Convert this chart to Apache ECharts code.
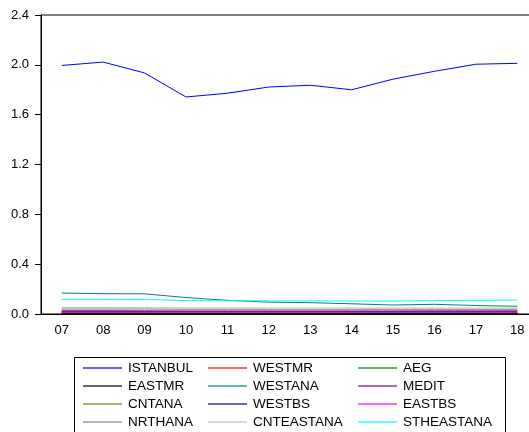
<!DOCTYPE html>
<html>
<head>
<meta charset="utf-8">
<script src="https://cdn.jsdelivr.net/npm/echarts@6/dist/echarts.min.js"></script>
<style>
html,body{margin:0;padding:0;background:#fff;}
#main{width:529px;height:432px;}
</style>
</head>
<body>
<div id="main"></div>
<script>
var years = ['07','08','09','10','11','12','13','14','15','16','17','18'];

var ISTANBUL   = [1.995,2.022,1.935,1.742,1.772,1.822,1.836,1.800,1.885,1.948,2.005,2.012];
var WESTMR     = [0.008,0.008,0.008,0.007,0.007,0.007,0.007,0.007,0.007,0.007,0.007,0.007];
var AEG        = [0.012,0.012,0.012,0.011,0.011,0.011,0.011,0.011,0.011,0.011,0.011,0.011];
var EASTMR     = [0.005,0.005,0.005,0.005,0.005,0.005,0.005,0.005,0.005,0.005,0.005,0.005];
var WESTANA    = [0.168,0.163,0.162,0.132,0.110,0.095,0.091,0.082,0.072,0.078,0.068,0.062];
var MEDIT      = [0.026,0.026,0.025,0.024,0.024,0.024,0.024,0.024,0.024,0.025,0.025,0.025];
var CNTANA     = [0.014,0.014,0.014,0.013,0.013,0.013,0.013,0.013,0.013,0.013,0.013,0.013];
var WESTBS     = [0.019,0.019,0.019,0.018,0.018,0.018,0.018,0.018,0.018,0.018,0.018,0.018];
var EASTBS     = [0.016,0.016,0.016,0.015,0.015,0.015,0.015,0.015,0.015,0.015,0.015,0.015];
var NRTHANA    = [0.040,0.040,0.040,0.038,0.038,0.038,0.038,0.038,0.038,0.038,0.038,0.038];
var CNTEASTANA = [0.052,0.052,0.051,0.049,0.049,0.048,0.048,0.048,0.048,0.048,0.048,0.048];
var STHEASTANA = [0.118,0.118,0.116,0.108,0.106,0.106,0.106,0.104,0.104,0.107,0.110,0.112];

var yTicks = [0, 0.4, 0.8, 1.2, 1.6, 2.0, 2.4];

// name, data, colour
var list = [
	['ISTANBUL',ISTANBUL,'#0000ff'],
	['WESTMR',WESTMR,'#ff0000'],
	['AEG',AEG,'#008000'],
	['EASTMR',EASTMR,'#000000'],
	['WESTANA',WESTANA,'#008080'],
	['MEDIT',MEDIT,'#800080'],
	['CNTANA',CNTANA,'#808000'],
	['WESTBS',WESTBS,'#000080'],
	['EASTBS',EASTBS,'#ff00ff'],
	['NRTHANA',NRTHANA,'#808080'],
	['CNTEASTANA',CNTEASTANA,'#c0c0c0'],
	['STHEASTANA',STHEASTANA,'#00ffff']
];

var cols = [
	['ISTANBUL','EASTMR','CNTANA','NRTHANA'],
	['WESTMR','WESTANA','WESTBS','CNTEASTANA'],
	['AEG','MEDIT','EASTBS','STHEASTANA']
];
var colX = [83, 208, 358];

var font = '"Liberation Sans", Arial, sans-serif';

var series = [];
for (var i = 0; i < list.length; i++) {
	series.push({
		name: list[i][0],
		type: 'line',
		data: list[i][1],
		symbol: 'none',
		color: list[i][2],
		lineStyle: {width: 1, color: list[i][2]},
		animation: false
	});
}

var legends = [];
for (var j = 0; j < cols.length; j++) {
	legends.push({
		data: cols[j],
		orient: 'vertical',
		left: colX[j],
		top: 361,
		padding: 0,
		itemGap: 4,
		itemWidth: 39,
		itemHeight: 2,
		icon: 'rect',
		itemStyle: {opacity: 0.6},
		selectedMode: false,
		textStyle: {fontFamily: font, fontSize: 13.5, color: '#000', lineHeight: 14, padding: [0,0,0,1]}
	});
}

var myChart = echarts.init(document.getElementById('main'));
myChart.setOption({
	animation: false,
	backgroundColor: '#fff',
	grid: {left: 41, top: 15, right: -9, height: 299, outerBoundsMode: 'none',
		show: true, borderColor: '#000', borderWidth: 1},
	xAxis: {
		type: 'category',
		data: years,
		boundaryGap: true,
		axisLine: {lineStyle: {color: '#000', width: 1}},
		axisTick: {length: 6, lineStyle: {color: '#000'}},
		axisLabel: {color: '#000', fontFamily: font, fontSize: 13, margin: 10}
	},
	yAxis: {
		type: 'value',
		min: yTicks[0],
		max: yTicks[yTicks.length - 1],
		interval: 0.4,
		splitLine: {show: false},
		axisLine: {show: true, lineStyle: {color: '#000', width: 1}},
		axisTick: {show: true, length: 6, lineStyle: {color: '#000'}},
		axisLabel: {color: '#000', fontFamily: font, fontSize: 13, margin: 12,
			formatter: function (v) { return v.toFixed(1); }}
	},
	legend: legends,
	graphic: [{
		type: 'rect',
		shape: {x: 74.5, y: 357.5, width: 431, height: 90},
		style: {fill: 'none', stroke: '#000', lineWidth: 1},
		silent: true
	}],
	series: series
});
</script>
</body>
</html>
